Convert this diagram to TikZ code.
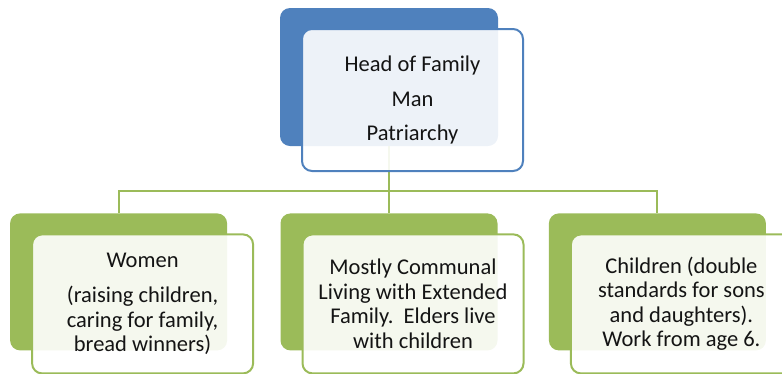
\documentclass[tikz,border=0pt]{standalone}
\usepackage{fontspec}
\setmainfont{Carlito}
\usetikzlibrary{positioning}
\definecolor{headblue}{HTML}{4F81BD}
\definecolor{leafgreen}{HTML}{9BBB59}
\definecolor{ink}{HTML}{141414}
\newcommand{\txt}{\fontsize{22.5pt}{24.5pt}\selectfont}
\tikzset{
  back/.style={rounded corners=10pt, minimum width=217pt, minimum height=137pt,
    inner sep=0pt},
  front/.style={line width=2pt, rounded corners=10pt, fill=white, fill opacity=0.9,
    text opacity=1, minimum width=221pt, minimum height=139pt, align=center,
    text=ink, font=\txt, xshift=24pt, yshift=-22pt},
  link/.style={draw=leafgreen, line width=2pt},
}

\begin{document}
\begin{tikzpicture}[x=1pt,y=1pt]
    \useasboundingbox (0,0) rectangle (782,-373);
    % coloured panels behind
    \node[back, fill=headblue, minimum width=218pt, minimum height=138pt] (headbk) at (389,-77) {};
    \node[back, fill=leafgreen, below=67pt of headbk] (midbk) {};
    \node[back, fill=leafgreen, left=53pt of midbk] (leftbk) {};
    \node[back, fill=leafgreen, right=51pt of midbk] (rightbk) {};
    % tree lines
    \foreach \b in {leftbk,midbk,rightbk}
      \draw[link] (headbk.south) |- ([yshift=22pt]\b.north) -- (\b.north);
    % text cards on top
    \node[front, draw=headblue, minimum height=142pt, xshift=-0.5pt, yshift=-1pt] (head) at (headbk)
      {Head of Family\\[10pt]Man\\[10pt]Patriarchy};
    \node[front, draw=leafgreen] (women) at (leftbk)
      {Women\\[11pt](raising children,\\caring for family,\\bread winners)};
    \node[front, draw=leafgreen] (living) at (midbk)
      {Mostly Communal\\Living with Extended\\Family.\ \ Elders live\\with children};
    \node[front, draw=leafgreen] (kids) at (rightbk)
      {Children (double\\standards for sons\\and daughters).\\Work from age 6.};
  \end{tikzpicture}
\end{document}
